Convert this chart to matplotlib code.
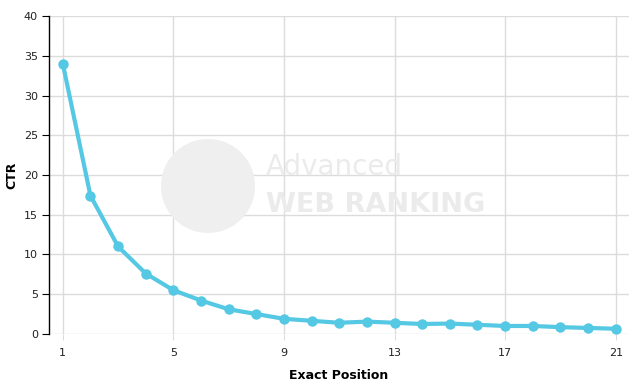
import numpy as np
import matplotlib.pyplot as plt
from matplotlib.patches import Circle

# CTR by exact ranking position
positions = list(range(1, 22))
ctr = [34.0, 17.4, 11.0, 7.6, 5.5, 4.2, 3.1, 2.5, 1.9, 1.65,
       1.4, 1.55, 1.4, 1.25, 1.3, 1.15, 1.0, 1.0, 0.85, 0.75, 0.65]
x_ticks = [1, 5, 9, 13, 17, 21]
y_ticks = [0, 5, 10, 15, 20, 25, 30, 35, 40]

line_color = '#55c8e4'
mark_color = '#ebebeb'

fig = plt.figure(figsize=(6.36, 3.91), dpi=100)
ax = fig.add_axes([0.077, 0.146, 0.912, 0.813])
ax.set_facecolor('none')

# watermark (globe + logo text), placed in figure inches
globe = Circle((2.08, 3.91 - 1.86), 0.47, transform=fig.dpi_scale_trans,
               facecolor='#efefef', edgecolor='none', zorder=0)
fig.patches.append(globe)
fig.text(266 / 636, 1 - 167 / 391, 'Advanced', fontsize=20, color=mark_color,
         va='center', ha='left', zorder=0)
fig.text(266 / 636, 1 - 205 / 391, 'WEB RANKING', fontsize=19.5, color=mark_color,
         fontweight='bold', va='center', ha='left', zorder=0)

ax.plot(positions, ctr, color=line_color, lw=3, marker='o', ms=7.5,
        markeredgewidth=0, zorder=3, clip_on=False)

ax.set_xlim(0.5, 21.48)
ax.set_ylim(0, 40)
ax.set_xticks(x_ticks)
ax.set_yticks(y_ticks)
ax.grid(True, color='#dcdcdc', lw=1)
ax.set_axisbelow(True)

for s in ['top', 'right', 'bottom']:
    ax.spines[s].set_visible(False)
ax.spines['left'].set_color('black')
ax.spines['left'].set_linewidth(1)

ax.tick_params(axis='y', length=5, color='black', labelsize=8, labelcolor='#222222', pad=3)
ax.tick_params(axis='x', length=4, color='#dcdcdc', labelsize=8, labelcolor='#222222', pad=6)

ax.set_xlabel('Exact Position', fontsize=9, fontweight='bold', labelpad=8)
ax.set_ylabel('CTR', fontsize=9, fontweight='bold', labelpad=4)

fig.savefig('out.png', dpi=100)
